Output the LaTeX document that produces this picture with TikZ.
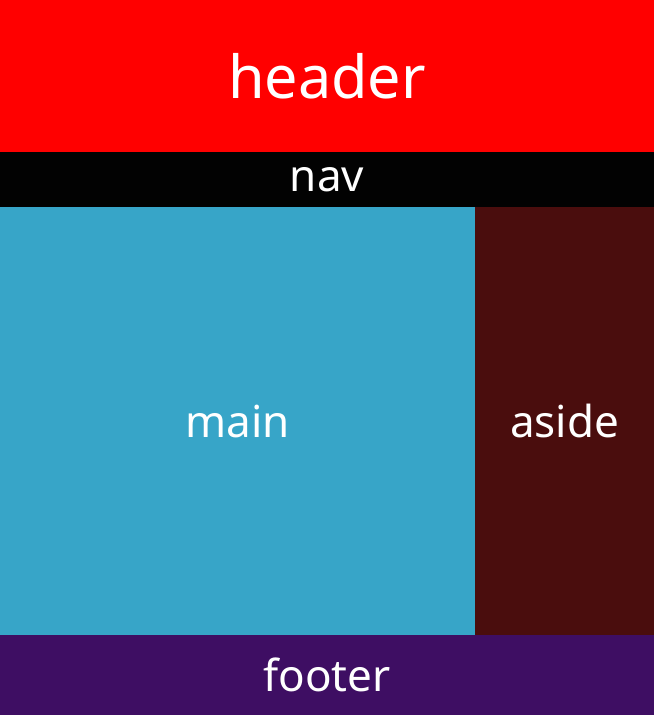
\documentclass[tikz,border=0pt]{standalone}
\usepackage{fontspec}
\setmainfont{Noto Sans}
\usetikzlibrary{positioning}

\definecolor{hdrred}{HTML}{FF0000}
\definecolor{navblack}{HTML}{020202}
\definecolor{mainblue}{HTML}{37A5C8}
\definecolor{asidebrown}{HTML}{4A0D0D}
\definecolor{footpurple}{HTML}{3E0E63}

\begin{document}
\begin{tikzpicture}[
    node distance=0pt,
    area/.style={
      rectangle, inner sep=0pt, outer sep=0pt,
      text=white, font=\fontsize{33}{38}\selectfont
    },
    hdrbox/.style={area, fill=hdrred, minimum width=490.5pt, minimum height=114pt,
      font=\fontsize{44.5}{50}\selectfont},
    navbox/.style={area, fill=navblack, minimum width=490.5pt, minimum height=41.25pt},
    mainbox/.style={area, fill=mainblue, minimum width=356.25pt, minimum height=321pt},
    asidebox/.style={area, fill=asidebrown, minimum width=134.25pt, minimum height=321pt},
    footbox/.style={area, fill=footpurple, minimum width=490.5pt, minimum height=60pt}
  ]
    % ── Page frame ──
    \useasboundingbox (0,0) rectangle (490.5pt,-536.25pt);

    % ── Top bars ──
    \node[hdrbox, anchor=north west] (header) at (0,0) {header};
    \node[navbox, below=of header] (nav) {nav};

    % ── Content row ──
    \node[mainbox, below=of nav.south west, anchor=north west] (main) {main};
    \node[asidebox, right=of main] (aside) {aside};

    % ── Bottom bar ──
    \node[footbox, below=of main.south west, anchor=north west] (footer) {footer};

  \end{tikzpicture}
\end{document}
